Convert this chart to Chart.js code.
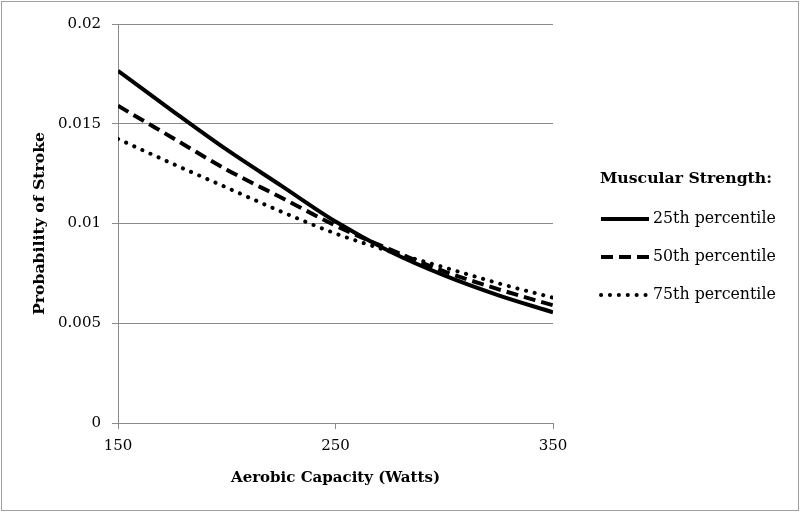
<!DOCTYPE html>
<html>
<head>
<meta charset="utf-8">
<script src="https://cdn.jsdelivr.net/npm/chart.js@4.4.1/dist/chart.umd.min.js"></script>
<style>
  html, body { margin: 0; padding: 0; background: #fff; }
  #wrap { width: 800px; height: 513px; position: relative; }
</style>
</head>
<body>
<div id="wrap"><canvas id="strokeChart"></canvas></div>
<script>
const watts = [150, 175, 200, 225, 250, 275, 300, 325, 350];
const p25 = [0.01765, 0.01565, 0.0137, 0.0119, 0.0101, 0.0086, 0.0074, 0.0064, 0.00555];
const p50 = [0.0159, 0.0143, 0.0127, 0.0113, 0.0099, 0.0087, 0.0076, 0.0067, 0.0059];
const p75 = [0.01424, 0.0130, 0.0118, 0.0106, 0.0095, 0.0086, 0.0078, 0.0070, 0.00628];
const seriesLabels = ["25th percentile", "50th percentile", "75th percentile"];
const legendTitle = "Muscular Strength:";
const yTicks = [0, 0.005, 0.01, 0.015, 0.02];
const xTicks = [150, 250, 350];

const FONT = "'DejaVu Serif', serif";
const GRID = "#8a8a8a";

function pts(ys) {
  return watts.map((w, i) => ({ x: w, y: ys[i] }));
}

// frame round the whole picture
const framePlugin = {
  id: "frame",
  beforeDraw(chart) {
    const ctx = chart.ctx;
    ctx.save();
    ctx.fillStyle = "#fff";
    ctx.fillRect(0, 0, chart.width, chart.height);
    ctx.strokeStyle = "#a0a0a0";
    ctx.lineWidth = 1;
    ctx.strokeRect(1.5, 1.5, chart.width - 3, chart.height - 4);
    ctx.restore();
  }
};

// legend on the right with its title, drawn from the datasets
const sideLegend = {
  id: "sideLegend",
  afterDraw(chart) {
    const ctx = chart.ctx;
    ctx.save();
    ctx.fillStyle = "#000";
    ctx.textBaseline = "middle";
    ctx.font = "bold 15.7px " + FONT;
    ctx.fillText(legendTitle, 600, 179);
    ctx.font = "15.8px " + FONT;
    chart.data.datasets.forEach((ds, i) => {
      const y = 219 + i * 38;
      ctx.strokeStyle = ds.borderColor;
      ctx.lineWidth = ds.borderWidth;
      ctx.lineCap = ds.borderCapStyle || "butt";
      ctx.setLineDash(ds.borderDash || []);
      ctx.beginPath();
      ctx.moveTo(601, y);
      ctx.lineTo(649, y);
      ctx.stroke();
      ctx.fillText(ds.label, 653, y);
    });
    ctx.restore();
  }
};

new Chart(document.getElementById("strokeChart"), {
  type: "line",
  data: {
    datasets: [
      {
        label: seriesLabels[0],
        data: pts(p25),
        borderColor: "#000",
        borderWidth: 4,
        borderDash: [],
        borderCapStyle: "butt"
      },
      {
        label: seriesLabels[1],
        data: pts(p50),
        borderColor: "#000",
        borderWidth: 4,
        borderDash: [12, 6],
        borderCapStyle: "butt"
      },
      {
        label: seriesLabels[2],
        data: pts(p75),
        borderColor: "#000",
        borderWidth: 4,
        borderDash: [0.1, 8.8],
        borderCapStyle: "round"
      }
    ]
  },
  options: {
    responsive: true,
    maintainAspectRatio: false,
    animation: false,
    layout: { padding: { top: 24, right: 247, left: 0, bottom: 0 } },
    elements: {
      point: { radius: 0 },
      line: { cubicInterpolationMode: "monotone", fill: false }
    },
    plugins: {
      legend: { display: false },
      tooltip: { enabled: false }
    },
    scales: {
      x: {
        type: "linear",
        min: 150,
        max: 350,
        afterFit: s => { s.height = 90; },
        afterBuildTicks: s => { s.ticks = xTicks.map(v => ({ value: v })); },
        grid: { drawOnChartArea: false, color: GRID, tickLength: 6 },
        border: { color: GRID },
        ticks: { color: "#000", font: { family: FONT, size: 15 }, padding: 8, maxRotation: 0 },
        title: {
          display: true,
          text: "Aerobic Capacity (Watts)",
          color: "#000",
          font: { family: FONT, size: 15, weight: "bold" },
          padding: { top: 0, bottom: 26 }
        }
      },
      y: {
        min: 0,
        max: 0.02,
        afterFit: s => { s.width = 118; },
        afterBuildTicks: s => { s.ticks = yTicks.map(v => ({ value: v })); },
        grid: { color: GRID, tickLength: 6 },
        border: { color: GRID },
        ticks: {
          color: "#000",
          font: { family: FONT, size: 15 },
          padding: 11,
          callback: v => String(v)
        },
        title: {
          display: true,
          text: "Probability of Stroke",
          color: "#000",
          font: { family: FONT, size: 15.7, weight: "bold" },
          padding: { top: 31, bottom: 0 }
        }
      }
    }
  },
  plugins: [framePlugin, sideLegend]
});
</script>
</body>
</html>
